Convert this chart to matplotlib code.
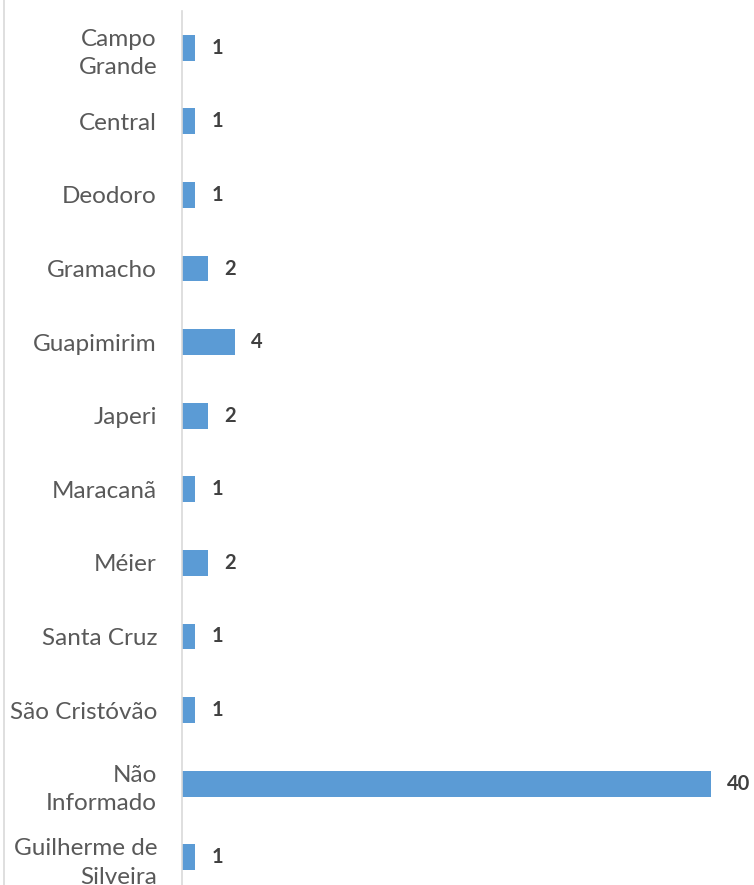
import matplotlib.pyplot as plt
from matplotlib.lines import Line2D

# categories top to bottom and counts
categories = ["Campo\nGrande", "Central", "Deodoro", "Gramacho", "Guapimirim",
              "Japeri", "Maracanã", "Méier", "Santa Cruz", "São Cristóvão",
              "Não\nInformado", "Guilherme de\nSilveira"]
counts = [1, 1, 1, 2, 4, 2, 1, 2, 1, 1, 40, 1]

plt.rcParams['font.family'] = ['Lato', 'DejaVu Sans']

fig = plt.figure(figsize=(7.54, 8.85), dpi=100)
ax = fig.add_axes([182 / 754, 1 - 894 / 885, (711 - 182) / 754, (894 - 11) / 885])

ypos = list(range(len(categories)))
ax.barh(ypos, counts, height=0.35, color="#5B9BD5")
ax.set_ylim(len(categories) - 0.5, -0.5)
ax.set_xlim(0, 40)

ax.set_yticks(ypos)
ax.set_yticklabels(categories, fontsize=17.5, color="#595959", linespacing=1.45)
ax.tick_params(axis="y", length=0, pad=18)
ax.set_xticks([])

for s in ["top", "right", "bottom"]:
    ax.spines[s].set_visible(False)
ax.spines["left"].set_color("#D9D9D9")
ax.spines["left"].set_linewidth(1.2)

for y, v in zip(ypos, counts):
    ax.annotate(str(v), (v, y), xytext=(11.5, 0), textcoords="offset points",
                ha="left", va="center", fontsize=14.5, fontweight="bold",
                color="#404040", annotation_clip=False)

# chart border on the left
fig.add_artist(Line2D([3.5 / 754, 3.5 / 754], [0, 1], color="#D9D9D9", lw=1.2))

fig.savefig("out.png", dpi=100)
